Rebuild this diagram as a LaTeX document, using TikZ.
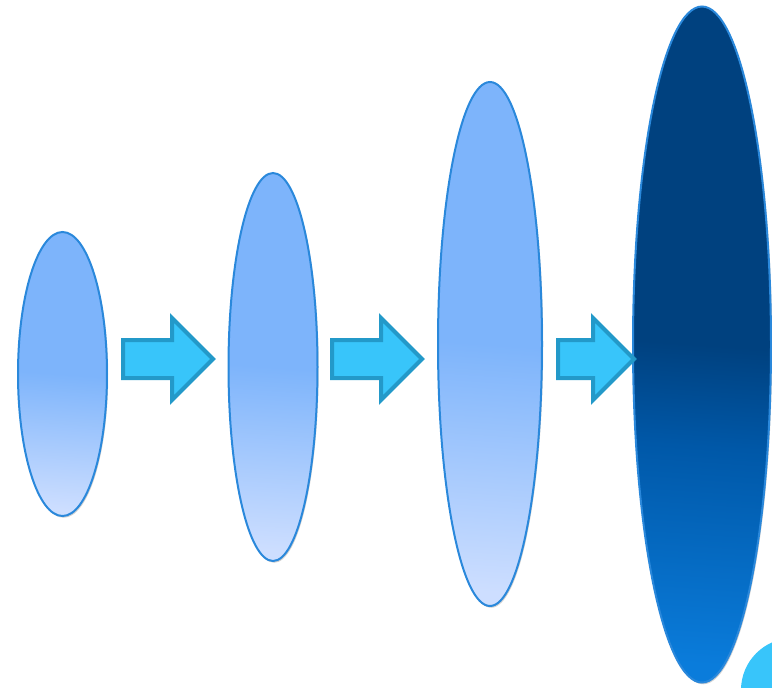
\documentclass[tikz,border=0pt]{standalone}
\usetikzlibrary{shapes.geometric,shadows}
\definecolor{clight}{HTML}{7DB4FB}
\definecolor{cpale}{HTML}{CDDEFF}
\definecolor{cdeep}{HTML}{00417F}
\definecolor{cmidD}{HTML}{0058A8}
\definecolor{cbright}{HTML}{0A7CDB}
\definecolor{crim}{HTML}{2A88DB}
\definecolor{carrow}{HTML}{38C5FA}
\definecolor{carrowD}{HTML}{2399C9}
\def\pxu{0.03cm}
\pgfdeclareverticalshading{lensfade}{100bp}{color(0bp)=(cpale); color(25bp)=(cpale); color(50bp)=(clight); color(100bp)=(clight)}
\pgfdeclareverticalshading{lensdeep}{100bp}{color(0bp)=(cbright); color(25bp)=(cbright); color(42bp)=(cmidD); color(50bp)=(cdeep); color(100bp)=(cdeep)}
\tikzset{
  lens/.style 2 args={ellipse, draw=crim, line width=2*\pxu, inner sep=0pt, outer sep=0pt,
               minimum width=#1*\pxu, minimum height=#2*\pxu,
               drop shadow={shadow xshift=1pt, shadow yshift=-1.5pt, opacity=.18, fill=black}},
  lensL/.style 2 args={lens={#1}{#2}, shading=lensfade, shading angle=-4},
  lensD/.style 2 args={lens={#1}{#2}, shading=lensdeep, shading angle=-4},
  growarrow/.style={draw=carrowD, fill=carrow, line width=4*\pxu, line join=miter},
}
\begin{document}
\begin{tikzpicture}[x=\pxu, y=-\pxu]
  \useasboundingbox (0,0) rectangle (772,687);
  \clip (0,0) rectangle (772,687);
  % growing lenses
  \node[lensL={89}{284}] (l1) at (62.5,374) {};
  \node[lensL={89}{388}] (l2) at (273,367) {};
  \node[lensL={104}{524}] (l3) at (490,344) {};
  \node[lensD={138}{676}] (l4) at (702,344.5) {};
  % block arrows between the lenses
  \foreach \nm/\x/\len in {a1/123/90, a2/332/90, a3/558/76}{
    \coordinate (\nm) at (\x,359);
    \draw[growarrow] (\nm) ++(0,-19) -- ++(\len-41,0) -- ++(0,-22) -- ++(41,41)
      -- ++(-41,41) -- ++(0,-22) -- ++(-\len+41,0) -- cycle;
  }
  % corner disc
  \node[circle, fill=carrow, minimum size=104*\pxu, inner sep=0pt] (orb) at (793,690) {};
\end{tikzpicture}
\end{document}
